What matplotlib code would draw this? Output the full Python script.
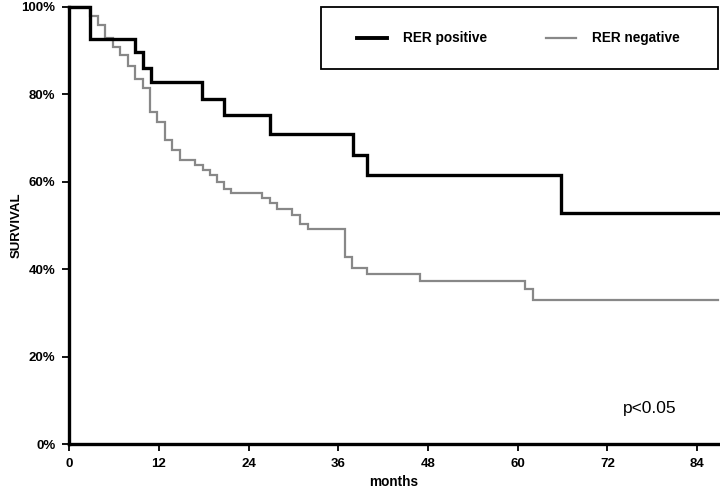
import matplotlib
matplotlib.use("Agg")
import matplotlib.pyplot as plt
from matplotlib.patches import Rectangle
from matplotlib.lines import Line2D

plt.rcParams['font.family'] = ['Liberation Sans', 'DejaVu Sans']

# RER positive (Kaplan-Meier steps)
pos_months = [0, 2.8, 8.8, 9.9, 10.9, 17.8, 20.7, 26.8, 37.9, 39.8, 65.8, 86.8]
pos_surv = [100, 92.7, 89.7, 86.0, 82.7, 78.9, 75.2, 70.9, 66.2, 61.5, 52.8, 52.8]

# RER negative
neg_months = [0, 2.8, 3.8, 4.8, 5.8, 6.8, 7.8, 8.8, 9.8, 10.8, 11.8, 12.8, 13.8,
              14.8, 16.8, 17.9, 18.8, 19.8, 20.7, 21.7, 25.8, 26.8, 27.8, 29.8,
              30.9, 31.9, 36.9, 37.8, 39.8, 46.9, 61.0, 62.0, 86.8]
neg_surv = [100, 97.9, 95.8, 92.8, 90.7, 89.0, 86.5, 83.5, 81.3, 76.0, 73.7, 69.5,
            67.2, 64.9, 63.8, 62.7, 61.5, 60.0, 58.2, 57.3, 56.2, 55.0, 53.7, 52.4,
            50.2, 49.1, 42.8, 40.2, 38.9, 37.3, 35.4, 32.9, 32.9]

x_ticks = [0, 12, 24, 36, 48, 60, 72, 84]
y_ticks = [0, 20, 40, 60, 80, 100]
y_ticklabels = ['0%', '20%', '40%', '60%', '80%', '100%']
series_labels = ['RER positive', 'RER negative']
p_text = 'p<0.05'

W, H = 720, 490
fig = plt.figure(figsize=(7.2, 4.9), dpi=100)
ax = fig.add_axes([69.3 / W, 1 - 444 / H, (718 - 69.3) / W, (444 - 6.7) / H])

black = '#000000'
gray = '#888888'

ax.plot(neg_months, neg_surv, drawstyle='steps-post', color=gray, lw=1.6,
        clip_on=False, zorder=2, solid_joinstyle='miter')
ax.plot(pos_months, pos_surv, drawstyle='steps-post', color=black, lw=2.4,
        clip_on=False, zorder=3, solid_joinstyle='miter')

ax.set_xlim(0, 86.8)
ax.set_ylim(0, 100)
ax.set_xticks(x_ticks)
ax.set_xticklabels([str(v) for v in x_ticks], fontweight='bold', fontsize=9.5)
ax.set_yticks(y_ticks)
ax.set_yticklabels(y_ticklabels, fontweight='bold', fontsize=9.5)

for s in ['top', 'right']:
    ax.spines[s].set_visible(False)
for s in ['left', 'bottom']:
    ax.spines[s].set_linewidth(2.4)
    ax.spines[s].set_zorder(4)

ax.tick_params(axis='both', direction='out', length=5, width=1.3, pad=5, color='black')

ax.set_xlabel('months', fontweight='bold', fontsize=9.8)
ax.xaxis.set_label_coords(0.5, -0.071)
ax.set_ylabel('SURVIVAL', fontweight='bold', fontsize=9.5)
ax.yaxis.set_label_coords(-0.072, 0.5)

ax.text(77.7, 8.2, p_text, fontsize=12.5, ha='center', va='center')

# Legend box (manual, matching reference layout)
def fx(px):
    return px / W

def fy(py):
    return 1 - py / H

fig.add_artist(Rectangle((fx(320.7), fy(69)), fx(717.7) - fx(320.7), fy(6.7) - fy(69),
                         transform=fig.transFigure, fill=False, edgecolor='black',
                         lw=1.3, zorder=5))
ly = fy(38.3)
fig.add_artist(Line2D([fx(357), fx(387)], [ly, ly], transform=fig.transFigure,
                      color=black, lw=2.8))
fig.text(fx(402.7), ly, series_labels[0], fontsize=9.8, fontweight='bold',
         ha='left', va='center')
fig.add_artist(Line2D([fx(546), fx(576)], [ly, ly], transform=fig.transFigure,
                      color=gray, lw=1.6))
fig.text(fx(591.7), ly, series_labels[1], fontsize=9.8, fontweight='bold',
         ha='left', va='center')

fig.savefig('out.png', dpi=100)
